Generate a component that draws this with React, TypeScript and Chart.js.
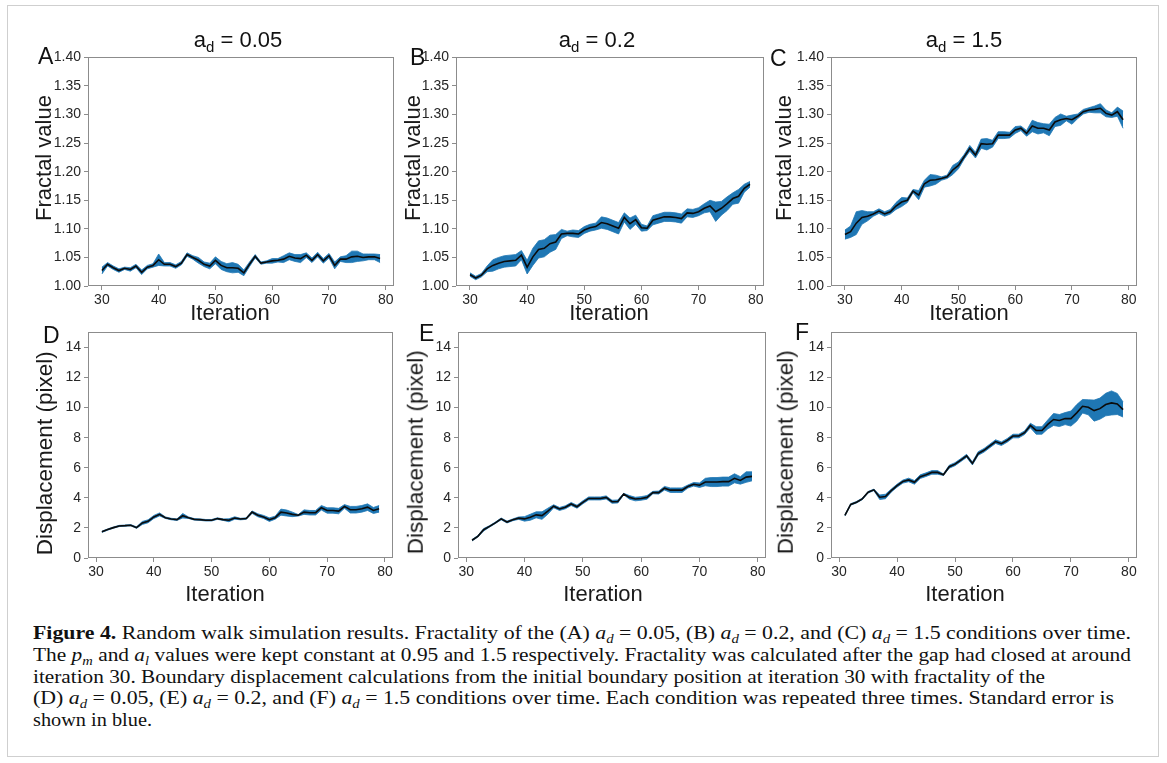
import React, { useEffect, useLayoutEffect, useRef } from 'react';
import { Chart, registerables } from 'chart.js';

Chart.register(...registerables);

// ---------------- data ----------------
const fractalIterations = [30, 31, 32, 33, 34, 35, 36, 37, 38, 39, 40, 41, 42, 43, 44, 45, 46, 47, 48, 49, 50, 51, 52, 53, 54, 55, 56, 57, 58, 59, 60, 61, 62, 63, 64, 65, 66, 67, 68, 69, 70, 71, 72, 73, 74, 75, 76, 77, 78, 79];
const displacementIterations = [31, 32, 33, 34, 35, 36, 37, 38, 39, 40, 41, 42, 43, 44, 45, 46, 47, 48, 49, 50, 51, 52, 53, 54, 55, 56, 57, 58, 59, 60, 61, 62, 63, 64, 65, 66, 67, 68, 69, 70, 71, 72, 73, 74, 75, 76, 77, 78, 79];
const iterationTicks = [30, 40, 50, 60, 70, 80];
const fractalTicks = [1.0, 1.05, 1.1, 1.15, 1.2, 1.25, 1.3, 1.35, 1.4];
const displacementTicks = [0, 2, 4, 6, 8, 10, 12, 14];

// (A) a_d = 0.05
const fractalMeanA = [1.027, 1.038, 1.032, 1.027, 1.031, 1.029, 1.035, 1.024, 1.033, 1.036,
  1.046, 1.038, 1.038, 1.034, 1.040, 1.055, 1.050, 1.045, 1.038, 1.035,
  1.045, 1.036, 1.032, 1.032, 1.031, 1.023, 1.038, 1.052, 1.040, 1.042,
  1.044, 1.045, 1.047, 1.052, 1.049, 1.048, 1.054, 1.045, 1.055, 1.044,
  1.053, 1.036, 1.047, 1.047, 1.051, 1.052, 1.050, 1.051, 1.051, 1.048];
const fractalSeA = [0.006, 0.003, 0.003, 0.003, 0.002, 0.003, 0.003, 0.004, 0.003, 0.003,
  0.010, 0.003, 0.003, 0.003, 0.003, 0.003, 0.003, 0.005, 0.004, 0.005,
  0.006, 0.007, 0.007, 0.009, 0.007, 0.005, 0.004, 0.003, 0.002, 0.002,
  0.004, 0.003, 0.006, 0.006, 0.006, 0.007, 0.004, 0.004, 0.004, 0.004,
  0.004, 0.006, 0.004, 0.006, 0.010, 0.009, 0.006, 0.005, 0.005, 0.007];

// (B) a_d = 0.2
const fractalMeanB = [1.020, 1.014, 1.019, 1.030, 1.036, 1.040, 1.043, 1.044, 1.045, 1.054,
  1.033, 1.051, 1.064, 1.066, 1.074, 1.077, 1.091, 1.092, 1.092, 1.091,
  1.098, 1.102, 1.104, 1.111, 1.109, 1.105, 1.101, 1.120, 1.109, 1.116,
  1.102, 1.101, 1.115, 1.118, 1.121, 1.121, 1.120, 1.118, 1.128, 1.127,
  1.130, 1.136, 1.140, 1.130, 1.136, 1.144, 1.153, 1.157, 1.171, 1.178];
const fractalSeB = [0.003, 0.003, 0.003, 0.005, 0.010, 0.010, 0.010, 0.010, 0.010, 0.008,
  0.012, 0.015, 0.015, 0.015, 0.015, 0.013, 0.008, 0.004, 0.006, 0.006,
  0.006, 0.006, 0.006, 0.010, 0.010, 0.010, 0.010, 0.008, 0.010, 0.008,
  0.006, 0.004, 0.008, 0.008, 0.008, 0.008, 0.008, 0.008, 0.007, 0.007,
  0.007, 0.008, 0.010, 0.017, 0.012, 0.012, 0.010, 0.012, 0.007, 0.005];

// (C) a_d = 1.5
const fractalMeanC = [1.090, 1.095, 1.110, 1.120, 1.122, 1.126, 1.131, 1.126, 1.130, 1.140,
  1.147, 1.150, 1.166, 1.159, 1.179, 1.185, 1.186, 1.188, 1.191, 1.203,
  1.211, 1.226, 1.241, 1.229, 1.249, 1.248, 1.249, 1.264, 1.264, 1.264,
  1.273, 1.276, 1.267, 1.280, 1.276, 1.276, 1.273, 1.287, 1.291, 1.293,
  1.291, 1.297, 1.305, 1.308, 1.309, 1.311, 1.302, 1.299, 1.305, 1.291];
const fractalSeC = [0.008, 0.010, 0.020, 0.012, 0.008, 0.004, 0.004, 0.004, 0.004, 0.006,
  0.008, 0.004, 0.003, 0.008, 0.006, 0.010, 0.008, 0.003, 0.003, 0.008,
  0.006, 0.004, 0.005, 0.005, 0.008, 0.010, 0.006, 0.006, 0.006, 0.005,
  0.006, 0.004, 0.005, 0.010, 0.010, 0.008, 0.010, 0.008, 0.010, 0.004,
  0.008, 0.004, 0.004, 0.004, 0.006, 0.008, 0.006, 0.004, 0.008, 0.015];

// (D) a_d = 0.05
const displacementMeanD = [1.74, 1.89, 2.02, 2.13, 2.15, 2.18, 2.02, 2.33, 2.44, 2.73,
  2.90, 2.68, 2.59, 2.55, 2.81, 2.68, 2.57, 2.55, 2.51, 2.51,
  2.62, 2.55, 2.51, 2.66, 2.59, 2.62, 3.05, 2.84, 2.73, 2.55,
  2.68, 3.05, 2.99, 2.90, 2.84, 3.05, 3.01, 3.01, 3.34, 3.16,
  3.16, 3.12, 3.43, 3.21, 3.21, 3.27, 3.38, 3.16, 3.27];
const displacementSeD = [0.04, 0.04, 0.04, 0.04, 0.04, 0.04, 0.05, 0.10, 0.10, 0.10,
  0.10, 0.05, 0.05, 0.05, 0.15, 0.05, 0.05, 0.05, 0.05, 0.05,
  0.05, 0.05, 0.10, 0.08, 0.05, 0.05, 0.08, 0.10, 0.10, 0.12,
  0.10, 0.20, 0.20, 0.15, 0.05, 0.15, 0.15, 0.15, 0.15, 0.18,
  0.18, 0.18, 0.12, 0.22, 0.22, 0.22, 0.22, 0.20, 0.22];

// (E) a_d = 0.2
const displacementMeanE = [1.18, 1.44, 1.88, 2.10, 2.34, 2.60, 2.39, 2.54, 2.65, 2.60,
  2.71, 2.87, 2.82, 3.11, 3.44, 3.26, 3.37, 3.59, 3.41, 3.70,
  3.96, 3.96, 3.96, 4.03, 3.74, 3.76, 4.25, 4.03, 3.92, 3.96,
  4.03, 4.35, 4.35, 4.64, 4.51, 4.51, 4.51, 4.75, 4.90, 4.84,
  5.05, 5.05, 5.05, 5.08, 5.08, 5.30, 5.16, 5.38, 5.43];
const displacementSeE = [0.05, 0.05, 0.08, 0.05, 0.05, 0.06, 0.06, 0.06, 0.08, 0.15,
  0.20, 0.20, 0.25, 0.20, 0.10, 0.10, 0.10, 0.10, 0.10, 0.10,
  0.10, 0.10, 0.10, 0.10, 0.10, 0.10, 0.05, 0.12, 0.12, 0.12,
  0.12, 0.08, 0.10, 0.12, 0.15, 0.15, 0.15, 0.10, 0.12, 0.15,
  0.25, 0.30, 0.30, 0.30, 0.30, 0.30, 0.25, 0.35, 0.30];

// (F) a_d = 1.5
const displacementMeanF = [2.84, 3.56, 3.71, 3.93, 4.37, 4.53, 4.04, 4.09, 4.48, 4.81,
  5.08, 5.19, 5.03, 5.41, 5.54, 5.69, 5.69, 5.54, 6.07, 6.24,
  6.51, 6.79, 6.29, 6.95, 7.16, 7.45, 7.74, 7.60, 7.82, 8.11,
  8.11, 8.33, 8.81, 8.48, 8.48, 8.88, 9.21, 9.14, 9.27, 9.27,
  9.65, 10.09, 10.02, 9.80, 9.93, 10.20, 10.31, 10.24, 9.87];
const displacementSeF = [0.05, 0.05, 0.05, 0.05, 0.05, 0.05, 0.15, 0.15, 0.10, 0.10,
  0.10, 0.12, 0.12, 0.12, 0.12, 0.12, 0.12, 0.05, 0.10, 0.10,
  0.10, 0.10, 0.10, 0.12, 0.12, 0.12, 0.12, 0.12, 0.12, 0.12,
  0.12, 0.12, 0.15, 0.25, 0.25, 0.30, 0.40, 0.40, 0.40, 0.50,
  0.55, 0.45, 0.50, 0.70, 0.70, 0.75, 0.80, 0.70, 0.50];

// ---------------- layout ----------------
const SANS = "'Liberation Sans', Arial, Helvetica, sans-serif";
const SERIF = "'Liberation Serif', 'Times New Roman', serif";
const BAND = '#1f77b4';
const SPINE = '#8c8c8c';

type PanelCfg = {
  id: string;
  kind: 'fractal' | 'disp';
  iters: number[];
  mean: number[];
  se: number[];
  plotLeft: number;
  plotTop: number;
  plotW: number;
  plotH: number;
  yTitleCx: number;
  yTitleCy: number;
  xTitleCx: number;
  xTitleBase: number;
};

const panels: PanelCfg[] = [
  { id: 'A', kind: 'fractal', iters: fractalIterations, mean: fractalMeanA, se: fractalSeA, plotLeft: 88, plotTop: 56, plotW: 306, plotH: 230, yTitleCx: 44, yTitleCy: 158, xTitleCx: 230, xTitleBase: 321 },
  { id: 'B', kind: 'fractal', iters: fractalIterations, mean: fractalMeanB, se: fractalSeB, plotLeft: 456, plotTop: 56, plotW: 308, plotH: 230, yTitleCx: 413, yTitleCy: 158, xTitleCx: 609, xTitleBase: 321 },
  { id: 'C', kind: 'fractal', iters: fractalIterations, mean: fractalMeanC, se: fractalSeC, plotLeft: 831, plotTop: 56, plotW: 306, plotH: 230, yTitleCx: 784, yTitleCy: 158, xTitleCx: 969, xTitleBase: 321 },
  { id: 'D', kind: 'disp', iters: displacementIterations, mean: displacementMeanD, se: displacementSeD, plotLeft: 88, plotTop: 331, plotW: 305, plotH: 227, yTitleCx: 45, yTitleCy: 453, xTitleCx: 225, xTitleBase: 602 },
  { id: 'E', kind: 'disp', iters: displacementIterations, mean: displacementMeanE, se: displacementSeE, plotLeft: 458, plotTop: 331, plotW: 308, plotH: 227, yTitleCx: 416, yTitleCy: 452, xTitleCx: 603, xTitleBase: 602 },
  { id: 'F', kind: 'disp', iters: displacementIterations, mean: displacementMeanF, se: displacementSeF, plotLeft: 831, plotTop: 331, plotW: 306, plotH: 227, yTitleCx: 786, yTitleCy: 452, xTitleCx: 965, xTitleBase: 602 },
];

const PAD_TOP = 10;
const PAD_RIGHT = 14;
const Y_AXIS_W = 50;
const X_AXIS_H = 26;

const framePlugin = {
  id: 'frameBox',
  afterDraw(chart: any) {
    const { ctx, chartArea: a } = chart;
    ctx.save();
    ctx.strokeStyle = SPINE;
    ctx.lineWidth = 1;
    const l = Math.round(a.left) + 0.5;
    const t = Math.round(a.top) + 0.5;
    const r = Math.round(a.right) - 0.5;
    const b = Math.round(a.bottom) - 0.5;
    ctx.strokeRect(l, t, r - l, b - t);
    ctx.restore();
  },
};

function buildConfig(p: PanelCfg): any {
  const isF = p.kind === 'fractal';
  const upper = p.iters.map((x, i) => ({ x, y: p.mean[i] + p.se[i] }));
  const lower = p.iters.map((x, i) => ({ x, y: p.mean[i] - p.se[i] }));
  const mid = p.iters.map((x, i) => ({ x, y: p.mean[i] }));
  const yTicks = isF ? fractalTicks : displacementTicks;
  const tickFont = { family: SANS, size: 14 };
  return {
    type: 'line',
    data: {
      datasets: [
        { data: upper, borderColor: BAND, borderWidth: 0.8, pointRadius: 0, backgroundColor: BAND, fill: '+1', tension: 0, order: 2 },
        { data: lower, borderColor: BAND, borderWidth: 0.8, pointRadius: 0, backgroundColor: BAND, fill: false, tension: 0, order: 2 },
        { data: mid, borderColor: '#0b0b0b', borderWidth: 1.6, pointRadius: 0, fill: false, tension: 0, order: 0 },
      ],
    },
    options: {
      animation: false,
      responsive: false,
      maintainAspectRatio: false,
      events: [],
      layout: { padding: { left: 0, top: PAD_TOP, right: PAD_RIGHT, bottom: 0 } },
      plugins: { legend: { display: false }, tooltip: { enabled: false }, title: { display: false } },
      scales: {
        x: {
          type: 'linear',
          min: isF ? 27.55 : 28.6,
          max: isF ? 81.45 : 81.4,
          afterBuildTicks: (s: any) => { s.ticks = iterationTicks.map((v) => ({ value: v })); },
          afterFit: (s: any) => { s.height = X_AXIS_H; },
          ticks: { font: tickFont, color: '#262626', padding: 2, maxRotation: 0, autoSkip: false, callback: (v: any) => String(v) },
          grid: { drawOnChartArea: false, drawTicks: true, tickLength: 4, color: SPINE },
          border: { display: false },
          title: { display: false },
        },
        y: {
          type: 'linear',
          min: isF ? 1.0 : 0,
          max: isF ? 1.4 : 15,
          afterBuildTicks: (s: any) => { s.ticks = yTicks.map((v) => ({ value: v })); },
          afterFit: (s: any) => { s.width = Y_AXIS_W; },
          ticks: { font: tickFont, color: '#262626', padding: 3, autoSkip: false, callback: (v: any) => (isF ? Number(v).toFixed(2) : String(v)) },
          grid: { drawOnChartArea: false, drawTicks: true, tickLength: 4, color: SPINE },
          border: { display: false },
          title: { display: false },
        },
      },
    },
    plugins: [framePlugin],
  };
}

function Panel({ p }: { p: PanelCfg }) {
  const ref = useRef<HTMLCanvasElement | null>(null);
  const cw = Y_AXIS_W + p.plotW + PAD_RIGHT;
  const ch = PAD_TOP + p.plotH + X_AXIS_H;
  useEffect(() => {
    if (!ref.current) return;
    const chart = new Chart(ref.current, buildConfig(p));
    return () => chart.destroy();
  }, []);
  const isF = p.kind === 'fractal';
  const yFont = isF ? 22 : 22.5;
  return (
    <>
      <canvas
        ref={ref}
        width={cw}
        height={ch}
        style={{ position: 'absolute', left: p.plotLeft - Y_AXIS_W, top: p.plotTop - PAD_TOP, width: cw, height: ch }}
      />
      <div
        style={{
          position: 'absolute',
          left: p.yTitleCx - 150,
          top: p.yTitleCy - yFont / 2,
          width: 300,
          height: yFont,
          lineHeight: `${yFont}px`,
          fontSize: yFont,
          fontFamily: SANS,
          color: '#1a1a1a',
          textAlign: 'center',
          whiteSpace: 'nowrap',
          transform: 'rotate(-90deg)',
          transformOrigin: '50% 50%',
        }}
      >
        {isF ? 'Fractal value' : 'Displacement (pixel)'}
      </div>
      <div
        style={{
          position: 'absolute',
          left: p.xTitleCx - 100,
          top: p.xTitleBase - 18.6,
          width: 200,
          lineHeight: '22px',
          fontSize: 22,
          fontFamily: SANS,
          color: '#1a1a1a',
          textAlign: 'center',
          whiteSpace: 'nowrap',
        }}
      >
        Iteration
      </div>
    </>
  );
}

const panelLetters = [
  { t: 'A', x: 38, base: 64 },
  { t: 'B', x: 410, base: 65 },
  { t: 'C', x: 770, base: 66 },
  { t: 'D', x: 43, base: 343 },
  { t: 'E', x: 419, base: 341 },
  { t: 'F', x: 795, base: 340 },
];

const panelTitles = [
  { v: '0.05', cx: 238 },
  { v: '0.2', cx: 597 },
  { v: '1.5', cx: 964 },
];

function M({ v, s }: { v: string; s: string }) {
  return (
    <span>
      <i>{v}</i>
      <i style={{ fontSize: '0.68em', verticalAlign: '-0.3em', lineHeight: 0 }}>{s}</i>
    </span>
  );
}

const captionLines: { w: number; node: React.ReactNode }[] = [
  {
    w: 1098,
    node: (
      <>
        <b>Figure 4.</b> Random walk simulation results. Fractality of the (A) <M v="a" s="d" /> = 0.05, (B) <M v="a" s="d" /> = 0.2, and (C) <M v="a" s="d" /> = 1.5 conditions over time.
      </>
    ),
  },
  {
    w: 1098,
    node: (
      <>
        The <M v="p" s="m" /> and <M v="a" s="l" /> values were kept constant at 0.95 and 1.5 respectively. Fractality was calculated after the gap had closed at around
      </>
    ),
  },
  { w: 1012, node: <>iteration 30. Boundary displacement calculations from the initial boundary position at iteration 30 with fractality of the</> },
  {
    w: 1081,
    node: (
      <>
        (D) <M v="a" s="d" /> = 0.05, (E) <M v="a" s="d" /> = 0.2, and (F) <M v="a" s="d" /> = 1.5 conditions over time. Each condition was repeated three times. Standard error is
      </>
    ),
  },
  { w: 119, node: <>shown in blue.</> },
];

const captionTops = [622, 644, 666, 687, 709];

function Caption() {
  const refs = useRef<(HTMLSpanElement | null)[]>([]);
  useLayoutEffect(() => {
    refs.current.forEach((el, i) => {
      if (!el) return;
      el.style.transform = 'none';
      const w = el.getBoundingClientRect().width;
      if (w > 0) el.style.transform = `scaleX(${captionLines[i].w / w})`;
    });
  }, []);
  return (
    <>
      {captionLines.map((ln, i) => (
        <span
          key={i}
          ref={(el) => { refs.current[i] = el; }}
          style={{
            position: 'absolute',
            left: 33,
            top: captionTops[i],
            whiteSpace: 'nowrap',
            fontFamily: SERIF,
            fontSize: 19,
            lineHeight: '22px',
            color: '#111',
            transformOrigin: '0 0',
            display: 'inline-block',
          }}
        >
          {ln.node}
        </span>
      ))}
    </>
  );
}

export default function App() {
  return (
    <div style={{ position: 'absolute', left: 0, top: 0, width: 1167, height: 763, background: '#fff', overflow: 'hidden' }}>
      <div style={{ position: 'absolute', left: 7, top: 5, width: 1152, height: 752, border: '1px solid #cfcfcf', boxSizing: 'border-box' }} />
      {panels.map((p) => (
        <Panel key={p.id} p={p} />
      ))}
      {panelTitles.map((t, i) => (
        <div
          key={i}
          style={{ position: 'absolute', left: t.cx - 80, width: 160, top: 29, textAlign: 'center', fontFamily: SANS, fontSize: 22, lineHeight: '22px', color: '#111', whiteSpace: 'nowrap' }}
        >
          a<span style={{ fontSize: 15, position: 'relative', top: 5 }}>d</span> = {t.v}
        </div>
      ))}
      {panelLetters.map((l) => (
        <div
          key={l.t}
          style={{ position: 'absolute', left: l.x, top: l.base - 19.5, fontFamily: SANS, fontSize: 23, lineHeight: '23px', color: '#111' }}
        >
          {l.t}
        </div>
      ))}
      <Caption />
    </div>
  );
}
